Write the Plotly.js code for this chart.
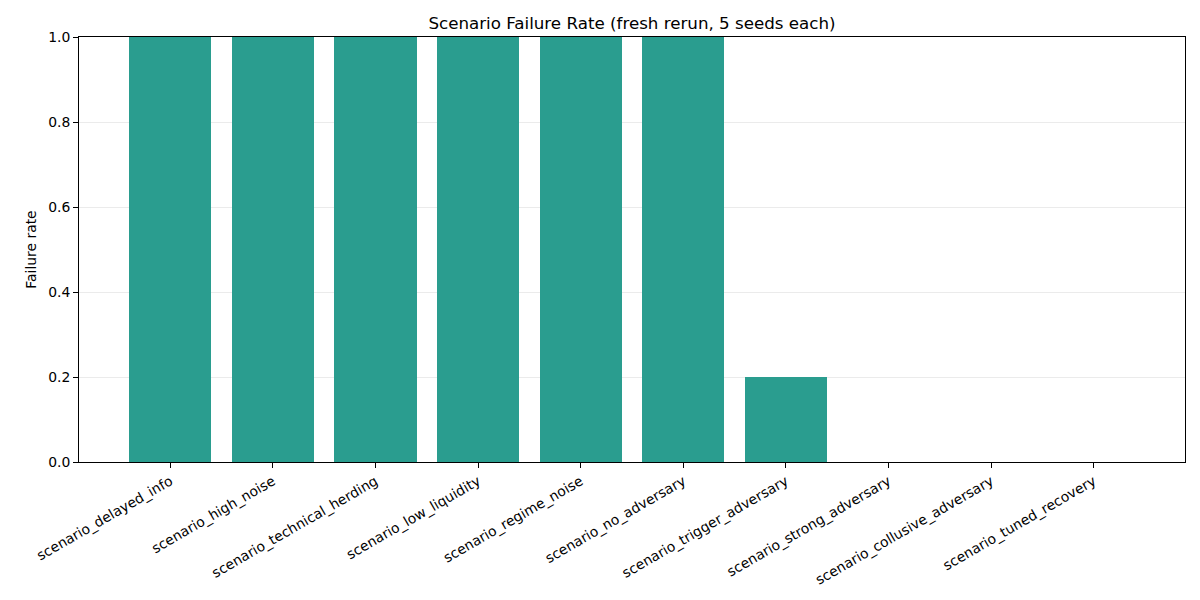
<!DOCTYPE html>
<html>
<head>
<meta charset="utf-8">
<script src="https://cdn.plot.ly/plotly-3.0.1.min.js"></script>
<style>
body { margin: 0; background: #fff; }
#chart { width: 1200px; height: 600px; }
</style>
</head>
<body>
<div id="chart"></div>
<script>
// Scenario names and failure rates (fraction of 5 seeds that failed).
const scenarios = [
  'scenario_delayed_info',
  'scenario_high_noise',
  'scenario_technical_herding',
  'scenario_low_liquidity',
  'scenario_regime_noise',
  'scenario_no_adversary',
  'scenario_trigger_adversary',
  'scenario_strong_adversary',
  'scenario_collusive_adversary',
  'scenario_tuned_recovery'
];
const failure_rate = [1.0, 1.0, 1.0, 1.0, 1.0, 1.0, 0.2, 0.0, 0.0, 0.0];
const y_ticks = [0, 0.2, 0.4, 0.6, 0.8, 1.0];

let positions = scenarios.map((s, i) => i);

let graph_data = [{
  type: 'bar',
  x: positions,
  y: failure_rate,
  width: 0.8,
  marker: {color: '#2a9d8f', line: {width: 0}},
  showlegend: false,
  hoverinfo: 'x+y'
}];

let font = {family: 'DejaVu Sans', size: 13.9, color: '#000'};

let layout = {
  width: 1200,
  height: 600,
  margin: {l: 79, r: 15, t: 37, b: 138},
  paper_bgcolor: '#fff',
  plot_bgcolor: '#fff',
  font: font,
  bargap: 0,
  title: {
    text: 'Scenario Failure Rate (fresh rerun, 5 seeds each)',
    font: {family: 'DejaVu Sans', size: 16.7, color: '#000'},
    x: 0.5, xref: 'paper',
    y: 1, yref: 'paper', yanchor: 'bottom',
    pad: {b: 8}
  },
  xaxis: {
    range: [-0.89, 9.89],
    tickmode: 'array',
    tickvals: positions,
    ticktext: scenarios,
    tickangle: -30,
    ticks: 'outside', ticklen: 5, tickwidth: 1, tickcolor: '#000',
    showgrid: false,
    zeroline: false,
    showline: true, linecolor: '#000', linewidth: 1, mirror: true,
    tickfont: font
  },
  yaxis: {
    range: [0, 1],
    tickmode: 'array',
    tickvals: y_ticks,
    ticktext: y_ticks.map(v => v.toFixed(1)),
    ticks: 'outside', ticklen: 5, tickwidth: 1, tickcolor: '#000',
    showgrid: true, gridcolor: 'rgba(0,0,0,0.08)', gridwidth: 1,
    layer: 'above traces',
    zeroline: false,
    showline: true, linecolor: '#000', linewidth: 1, mirror: true,
    tickfont: font,
    title: {text: 'Failure rate', font: font, standoff: 8}
  }
};

Plotly.newPlot('chart', graph_data, layout, {displayModeBar: false, staticPlot: true});
</script>
</body>
</html>
